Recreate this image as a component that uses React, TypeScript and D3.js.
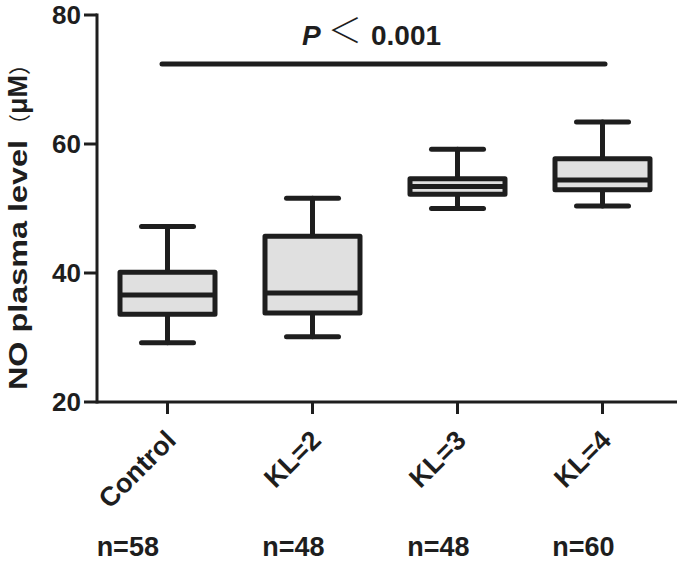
import React from "react";
import * as d3 from "d3";

const categories = ["Control", "KL=2", "KL=3", "KL=4"];
const counts = ["n=58", "n=48", "n=48", "n=60"];
const whiskerLow = [29.2, 30.1, 50.0, 50.4];
const q1 = [33.6, 33.8, 52.2, 52.9];
const median = [36.6, 36.9, 53.4, 54.4];
const q3 = [40.1, 45.7, 54.6, 57.7];
const whiskerHigh = [47.2, 51.6, 59.2, 63.4];
const yTicks = [20, 40, 60, 80];
const pText = "0.001";

const W = 680;
const H = 561;
const axisX = 97;
const axisY = 402;
const ink = "#1e1e1e";
const font = "'Liberation Sans', Arial, sans-serif";
const catFont = 27;

function measure(text: string, size: number): number {
  if (typeof document === "undefined") return text.length * size * 0.55;
  const c = document.createElement("canvas");
  const ctx = c.getContext("2d");
  if (!ctx) return text.length * size * 0.55;
  ctx.font = `bold ${size}px 'Liberation Sans'`;
  return ctx.measureText(text).width;
}

export default function App() {
  const y = d3.scaleLinear().domain([20, 80]).range([axisY, 15]);
  const x = d3.scaleBand<string>().domain(categories).range([95, 675]);
  const cx = (c: string) => (x(c) as number) + x.bandwidth() / 2;
  const boxW = 95;
  const capW = 52;
  const labelDX = 10;
  const labelY = 442;

  return (
    <svg
      width={W}
      height={H}
      style={{ position: "absolute", left: 0, top: 0, background: "#fff" }}
      fontFamily={font}
    >
      {/* y axis */}
      <line x1={axisX} x2={axisX} y1={y(80) - 1.5} y2={axisY + 1.5} stroke={ink} strokeWidth={3} />
      {yTicks.map((t) => (
        <g key={t}>
          <line x1={axisX - 13} x2={axisX} y1={y(t)} y2={y(t)} stroke={ink} strokeWidth={3} />
          <text x={axisX - 16} y={y(t)} dy="0.35em" textAnchor="end" fontSize={26} fontWeight="bold" fill={ink}>
            {t}
          </text>
        </g>
      ))}
      {/* x axis */}
      <line x1={axisX} x2={677} y1={axisY} y2={axisY} stroke={ink} strokeWidth={3} />
      {categories.map((c, i) => {
        const L = measure(c, catFont);
        const startX = cx(c) + labelDX - L * Math.SQRT1_2;
        return (
          <g key={c}>
            <line x1={cx(c)} x2={cx(c)} y1={axisY} y2={axisY + 12} stroke={ink} strokeWidth={3} />
            <text
              transform={`translate(${cx(c) + labelDX},${labelY}) rotate(-45)`}
              textAnchor="end"
              fontSize={catFont}
              fontWeight="bold"
              fill={ink}
            >
              {c}
            </text>
            <text x={startX - 13} y={556} fontSize={27} fontWeight="bold" fill={ink}>
              {counts[i]}
            </text>
          </g>
        );
      })}
      {/* y title */}
      <g transform="translate(27,0)">
        <text
          transform="translate(0,390) rotate(-90)"
          fontSize={26}
          fontWeight="bold"
          fill={ink}
          textLength={250}
          lengthAdjust="spacingAndGlyphs"
        >
          NO plasma level
        </text>
        <text transform="translate(0,136) rotate(-90)" fontSize={27} fontWeight="bold" fill={ink}>
          <tspan fontFamily="'Noto Sans CJK SC'" fontWeight="normal" fontSize={22}>（</tspan>
          <tspan>μM</tspan>
          <tspan fontFamily="'Noto Sans CJK SC'" fontWeight="normal" fontSize={22}>）</tspan>
        </text>
      </g>
      {/* boxes */}
      {categories.map((c, i) => {
        const xc = cx(c);
        return (
          <g key={"b" + c} stroke={ink} strokeWidth={5} strokeLinecap="round">
            <line x1={xc} x2={xc} y1={y(whiskerHigh[i])} y2={y(q3[i])} />
            <line x1={xc} x2={xc} y1={y(q1[i])} y2={y(whiskerLow[i])} />
            <line x1={xc - capW / 2} x2={xc + capW / 2} y1={y(whiskerHigh[i])} y2={y(whiskerHigh[i])} />
            <line x1={xc - capW / 2} x2={xc + capW / 2} y1={y(whiskerLow[i])} y2={y(whiskerLow[i])} />
            <rect
              x={xc - boxW / 2}
              y={y(q3[i])}
              width={boxW}
              height={y(q1[i]) - y(q3[i])}
              fill="#e0e0e0"
              strokeLinejoin="round"
            />
            <line x1={xc - boxW / 2} x2={xc + boxW / 2} y1={y(median[i])} y2={y(median[i])} strokeLinecap="butt" />
          </g>
        );
      })}
      {/* significance */}
      <line x1={162} x2={605} y1={64} y2={64} stroke={ink} strokeWidth={5} strokeLinecap="round" />
      <text x={302} y={45} fontSize={28} fontWeight="bold" fontStyle="italic" fill={ink}>
        P
      </text>
      <text x={345} y={43} fontSize={34} fontWeight="300" textAnchor="middle" fontFamily="'Noto Sans CJK SC'" fill={ink}>
        ＜
      </text>
      <text x={371} y={45} fontSize={28} fontWeight="bold" fill={ink}>
        {pText}
      </text>
    </svg>
  );
}
